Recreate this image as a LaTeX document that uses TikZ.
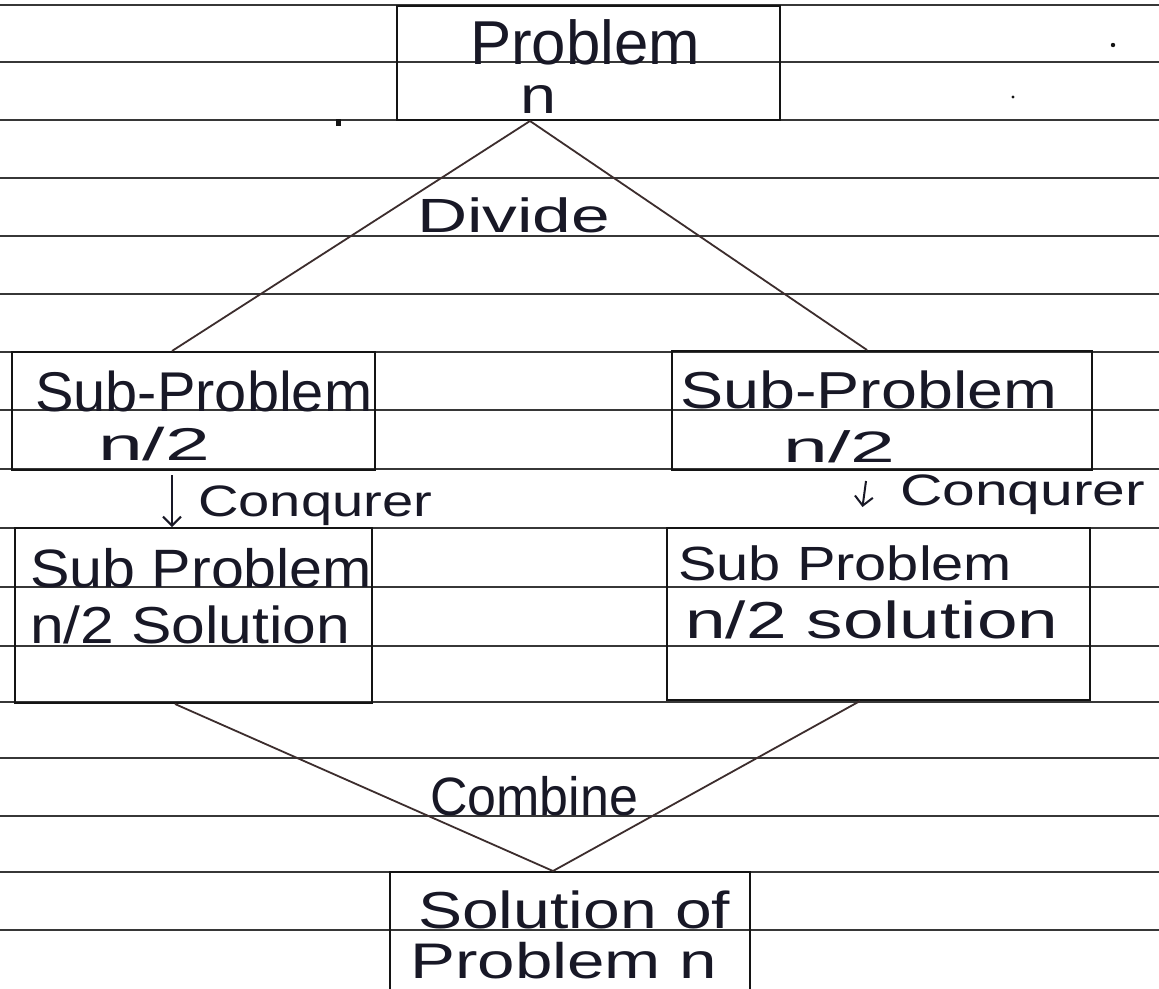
\documentclass[tikz,border=0pt]{standalone}
\usepackage{fontspec}
\setmainfont{Liberation Sans}
\usepackage{graphicx}
\usetikzlibrary{calc,arrows.meta}
\definecolor{ink}{RGB}{24,24,38}
\definecolor{rule}{RGB}{55,55,55}
\definecolor{pen}{RGB}{20,20,20}
\definecolor{diag}{RGB}{60,45,45}
\newcommand{\hw}[3]{{\fontsize{#1}{#1}\selectfont\resizebox{#2}{\height}{#3}}}
\begin{document}
\begin{tikzpicture}[x=1pt,y=-1pt,
  txt/.style={anchor=base west,inner sep=0pt,text=ink},
  box/.style={draw=pen,line width=2pt,rectangle,inner sep=0pt,fill=none},
  ruled/.style={draw=rule,line width=2pt},
  link/.style={draw=diag,line width=1.8pt},
  conarrow/.style={draw=ink,line width=2pt,-{Straight Barb[length=9pt,width=18pt,line width=2pt]}}]
\useasboundingbox (0,0) rectangle (1159,988);
\fill[white] (0,0) rectangle (1159,988);
\begin{scope}
\clip (0,0) rectangle (1159,988);
% ruled paper lines
\foreach \yy in {5,62,120,178,236,294,352,410,469,528,587,646,702,758,816,872,930}
  \draw[ruled] (0,\yy) -- (1159,\yy);
% boxes
\node[box,minimum width=383pt,minimum height=114pt] (top) at (588.5,63) {};
\node[box,minimum width=363pt,minimum height=118pt] (lsub) at (193.5,411) {};
\node[box,minimum width=420pt,minimum height=119pt] (rsub) at (882,410.5) {};
\node[box,minimum width=357pt,minimum height=175pt] (lsol) at (193.5,615.5) {};
\node[box,minimum width=423pt,minimum height=172pt] (rsol) at (878.5,614) {};
\node[box,minimum width=360pt,minimum height=140pt] (fin) at (570,942) {};
% texts
\node[txt] (tP) at (470,64) {\hw{62}{230pt}{Problem}};
\node[txt] (tn) at (520,113) {\hw{52}{36pt}{n}};
\node[txt] (ls1) at (35,411) {\hw{56}{337pt}{Sub-Problem}};
\node[txt] (ls2) at (98,460) {\hw{46}{112pt}{n/2}};
\node[txt] (rs1) at (680,408) {\hw{52}{377pt}{Sub-Problem}};
\node[txt] (rs2) at (783,462) {\hw{44}{112pt}{n/2}};
\node[txt] (lc) at (198,516) {\hw{44}{234pt}{Conqurer}};
\node[txt] (rc) at (900,505) {\hw{44}{245pt}{Conqurer}};
\node[txt] (lo1) at (30,587) {\hw{54}{342pt}{Sub Problem}};
\node[txt] (lo2) at (30,643) {\hw{52}{320pt}{n/2 Solution}};
\node[txt] (ro1) at (678,580) {\hw{48}{334pt}{Sub Problem}};
\node[txt] (ro2) at (685,638) {\hw{52}{373pt}{n/2 solution}};
\node[txt] (dv) at (417,232) {\hw{48}{193pt}{Divide}};
\node[txt] (cb) at (430,815) {\hw{54}{208pt}{Combine}};
\node[txt] (f1) at (418,928) {\hw{52}{312pt}{Solution of}};
\node[txt] (f2) at (410,978) {\hw{50}{307pt}{Problem n}};
% divide connectors
\draw[link] ($(top.south)+(-58.5,0)$) -- ($(lsub.north)+(-21.5,0)$);
\draw[link] ($(top.south)+(-58.5,0)$) -- ($(rsub.north)+(-15,0)$);
% conquer arrows
\draw[conarrow] ($(lsub.south)+(-21.5,4)$) -- ($(lsol.north)+(-21.5,0)$);
\draw[conarrow] ($(rsub.south)+(-16,10)$) -- ($(rsol.north)+(-16,-20)$);
% combine connectors
\draw[link] ($(lsol.south)+(-18.5,0)$) -- ($(fin.north)+(-17,0)$);
\draw[link] ($(rsol.south)+(-18.5,0)$) -- ($(fin.north)+(-17,0)$);
% specks
\fill[pen] (336,119) rectangle (341,126);
\fill[pen] (1113,45) circle (2.2pt);
\fill[pen] (1013,97) circle (1.6pt);
\end{scope}
\end{tikzpicture}
\end{document}
